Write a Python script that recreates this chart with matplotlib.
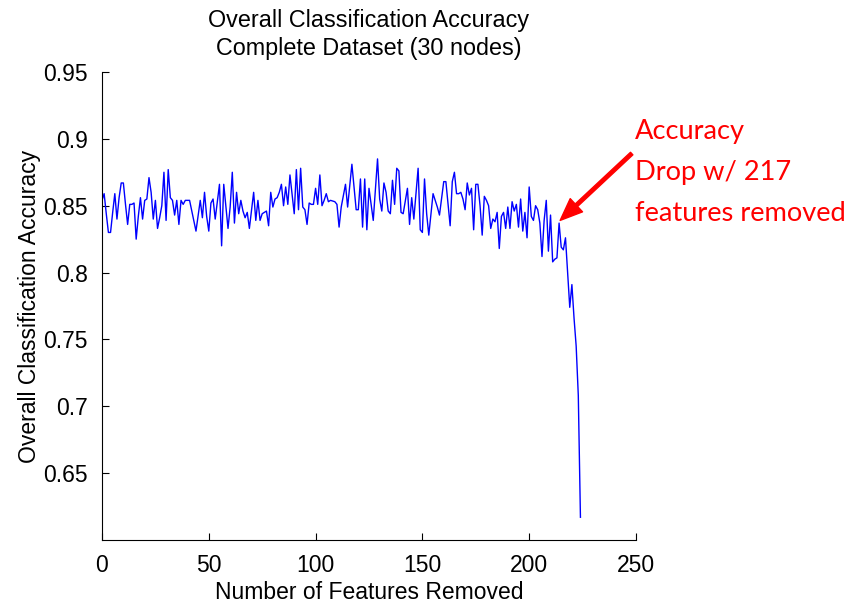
import matplotlib
matplotlib.use("Agg")
import matplotlib.pyplot as plt
from matplotlib.ticker import FixedLocator, FixedFormatter

# Number of features removed and the resulting overall classification accuracy
features_removed = [
    0, 1, 2, 3, 4, 5, 6, 7, 8, 9, 10, 11, 12, 13, 14, 15, 16, 17, 18, 19,
    20, 21, 22, 23, 24, 25, 26, 27, 28, 29, 30, 31, 32, 33, 34, 35, 36, 37, 38, 39,
    40, 41, 44, 46, 47, 48, 49, 50, 51, 52, 53, 55, 56, 57, 59, 60, 61, 62, 63, 64,
    65, 66, 67, 68, 69, 71, 72, 73, 74, 75, 77, 78, 79, 80, 81, 82, 83,
    84, 85, 86, 87, 88, 90, 91, 92, 93, 94, 95, 96, 97, 98, 99, 100, 101, 102, 103,
    104, 105, 106, 107, 109, 110, 111, 112, 114, 115, 117, 119, 120, 121, 122, 123,
    124, 125,
    127, 129, 130, 131, 132, 133, 134, 135, 136, 137, 138, 139, 140, 141, 143, 144,
    145, 146, 148, 149, 150, 151, 152, 153, 155, 157, 158, 160, 161, 163, 164, 165,
    166, 167,
    168, 169, 170, 171, 172, 173, 174, 175, 176, 177, 178, 179, 180, 181, 182, 183,
    184, 185, 186, 187, 188, 189, 190, 191, 192, 193, 194, 195, 196, 197, 198, 199,
    200, 201, 202, 203, 204, 205, 206, 207, 208, 209,
    210, 211, 212, 213, 214, 215, 216, 217, 219, 220, 221, 222, 223, 224,
]

accuracy = [
    0.854, 0.859, 0.844, 0.830, 0.830, 0.845, 0.859, 0.840, 0.856, 0.867,
    0.867, 0.851, 0.836, 0.851, 0.851, 0.852, 0.825, 0.842, 0.856, 0.840,
    0.854, 0.855, 0.871, 0.860, 0.840, 0.854, 0.833, 0.841, 0.850, 0.875,
    0.839, 0.877, 0.856, 0.854, 0.843, 0.854, 0.836, 0.854, 0.851, 0.854,
    0.854, 0.854, 0.831, 0.854, 0.841, 0.860, 0.842, 0.831, 0.852, 0.855,
    0.840, 0.866, 0.820, 0.866, 0.833, 0.849, 0.875, 0.837, 0.860, 0.844,
    0.854, 0.846, 0.841, 0.845, 0.833, 0.860, 0.839, 0.854, 0.839, 0.844,
    0.846, 0.835, 0.860, 0.849, 0.855, 0.856, 0.860,
    0.866, 0.850, 0.864, 0.851, 0.873, 0.844, 0.877, 0.847, 0.878, 0.849,
    0.847, 0.836, 0.852, 0.851, 0.851, 0.863, 0.851, 0.873, 0.850, 0.854,
    0.859, 0.853, 0.854, 0.853, 0.851, 0.834, 0.849, 0.866, 0.849, 0.881,
    0.847, 0.847, 0.870, 0.834, 0.870, 0.832, 0.863,
    0.839, 0.885, 0.855, 0.846, 0.867, 0.860, 0.846, 0.844, 0.869, 0.851,
    0.878, 0.876, 0.845, 0.844, 0.863, 0.836, 0.856, 0.840, 0.878, 0.832,
    0.830, 0.870, 0.844, 0.828, 0.859, 0.849, 0.843, 0.868, 0.868, 0.835,
    0.868, 0.875, 0.859, 0.859,
    0.860, 0.855, 0.847, 0.867, 0.858, 0.863, 0.832, 0.866, 0.866, 0.850,
    0.828, 0.857, 0.854, 0.850, 0.833, 0.840, 0.838, 0.845, 0.818, 0.842,
    0.845, 0.833, 0.849, 0.833, 0.853, 0.846, 0.851, 0.834, 0.855, 0.831,
    0.845, 0.826, 0.864, 0.842, 0.839, 0.850, 0.847, 0.837, 0.812, 0.839,
    0.854, 0.816,
    0.843, 0.808, 0.810, 0.811, 0.837, 0.819, 0.817, 0.826, 0.774, 0.791,
    0.766, 0.745, 0.708, 0.617,
]

x_ticks = [0, 50, 100, 150, 200, 250]
y_ticks = [0.65, 0.70, 0.75, 0.80, 0.85, 0.90, 0.95]
y_tick_labels = ["0.65", "0.7", "0.75", "0.8", "0.85", "0.9", "0.95"]

note_lines = ["Accuracy", "Drop w/ 217", "features removed"]
note_point = (214.5, 0.839)
note_tail = (248, 0.889)

plt.rcParams["font.family"] = ["Liberation Sans", "DejaVu Sans"]

fig = plt.figure(figsize=(8.5, 6.07), dpi=100)
ax = fig.add_axes([0.12, 0.1104, 0.6282, 0.771])

ax.plot(features_removed, accuracy, color=(0, 0, 1), linewidth=1.0)

ax.set_xlim(0, 250)
ax.set_ylim(0.6, 0.95)
ax.xaxis.set_major_locator(FixedLocator(x_ticks))
ax.yaxis.set_major_locator(FixedLocator(y_ticks))
ax.yaxis.set_major_formatter(FixedFormatter(y_tick_labels))

for side in ("top", "right"):
    ax.spines[side].set_visible(False)
for side in ("left", "bottom"):
    ax.spines[side].set_color("black")
    ax.spines[side].set_linewidth(0.8)

ax.tick_params(direction="in", length=5, width=0.8, labelsize=16.5, colors="black")
ax.tick_params(axis="x", pad=10)
ax.tick_params(axis="y", pad=10)

ax.set_title("Overall Classification Accuracy\nComplete Dataset (30 nodes)",
             fontsize=16.8, linespacing=1.32, pad=12)
ax.set_xlabel("Number of Features Removed", fontsize=16.5, labelpad=3)
ax.set_ylabel("Overall Classification Accuracy", fontsize=16.5, labelpad=2)

ax.annotate("", xy=note_point, xytext=note_tail,
            arrowprops=dict(facecolor="red", edgecolor="red", width=2.5,
                            headwidth=13, headlength=16, shrink=0.0),
            annotation_clip=False)

for k, line in enumerate(note_lines):
    fig.text(635 / 850, 1 - (139 + 41 * k) / 607, line, color="red",
             fontsize=19.6, family=["Lato", "DejaVu Sans"], va="baseline", ha="left")

fig.savefig("out.png", dpi=100)
